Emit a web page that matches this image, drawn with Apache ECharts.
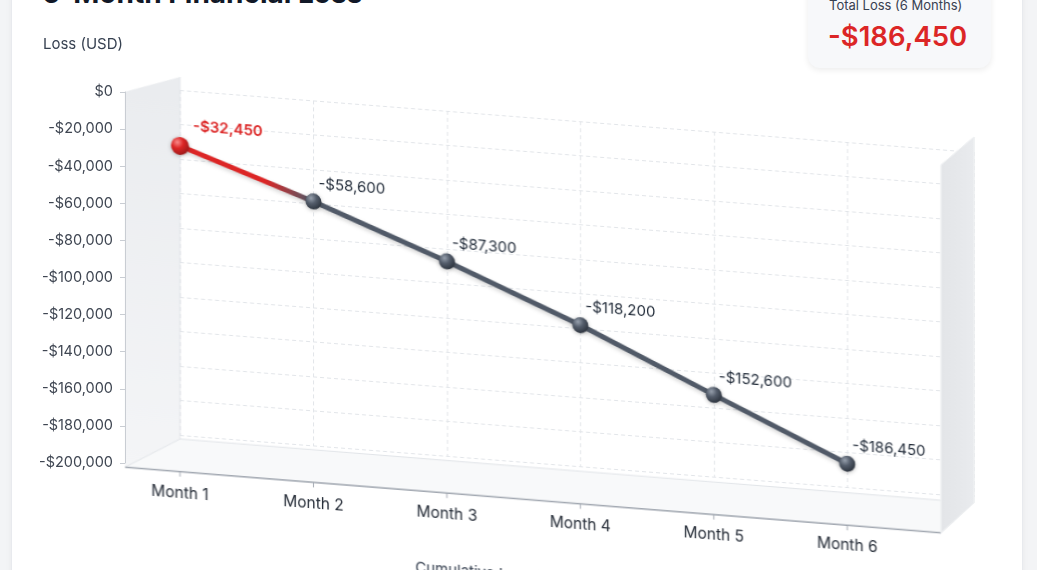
<!DOCTYPE html>
<html>
<head>
<meta charset="utf-8">
<script src="https://cdn.jsdelivr.net/npm/echarts@6/dist/echarts.min.js"></script>
<style>
  html, body { margin:0; padding:0; width:1037px; height:570px; overflow:hidden; background:#f3f4f6; font-family: Inter, "Noto Sans", sans-serif; }
  #card { position:absolute; left:11px; top:-60px; width:1010px; height:700px; background:#ffffff; border:1px solid #e8eaee; border-radius:14px; box-shadow:0 1px 6px rgba(0,0,0,0.05); }
  #title { position:absolute; left:42px; top:-21px; font-size:28px; line-height:28px; font-weight:700; color:#111827; white-space:nowrap; }
  #kpi { position:absolute; left:808px; top:-40px; width:183px; height:108px; background:#f7f8fa; border-radius:12px; box-shadow:0 2px 6px rgba(0,0,0,0.08); }
  #kpiLabel { position:absolute; left:829px; top:-4px; font-size:13px; line-height:18px; color:#374151; white-space:nowrap; }
  #kpiValue { position:absolute; left:828px; top:19px; font-size:27.5px; line-height:34px; font-weight:600; color:#dc2626; white-space:nowrap; }
  #plot { position:absolute; left:0; top:0; width:1037px; height:570px; transform-origin:180px 0; transform:skewY(4.46deg); }
  #axisLayer { position:absolute; left:0; top:0; width:1037px; height:570px; pointer-events:none; }
</style>
</head>
<body>
<div id="card"></div>
<div id="title">6-Month Financial Loss</div>
<div id="kpi"></div>
<div id="kpiLabel">Total Loss (6 Months)</div>
<div id="kpiValue"></div>
<div id="plot"></div>
<div id="axisLayer"></div>
<script>
// ---- data ----
const months = ['Month 1', 'Month 2', 'Month 3', 'Month 4', 'Month 5', 'Month 6'];
const cumulativeLoss = [-32450, -58600, -87300, -118200, -152600, -186450];
const yMin = -200000;
const yMax = 0;
const yStep = 20000;
const monthIndex = [0, 1, 2, 3, 4, 5];

function fmtUSD(v) {
  const s = '$' + Math.abs(v).toLocaleString('en-US');
  return v < 0 ? '-' + s : s;
}

document.getElementById('kpiValue').textContent = fmtUSD(cumulativeLoss[cumulativeLoss.length - 1]);

const slate = '#515a68';
const red = '#dc2626';
const sphereSlate = { type:'radial', x:0.35, y:0.3, r:0.75, colorStops:[{offset:0,color:'#97a0ad'},{offset:0.45,color:'#545d6b'},{offset:1,color:'#2c333d'}] };
const sphereRed = { type:'radial', x:0.35, y:0.3, r:0.75, colorStops:[{offset:0,color:'#f98b8b'},{offset:0.45,color:'#dc2626'},{offset:1,color:'#9b1a1a'}] };

const seriesData = monthIndex.map(function (i) {
  const item = { value: [i, cumulativeLoss[i]], itemStyle: { color: sphereSlate } };
  if (i === 0) {
    item.symbolSize = 18;
    item.itemStyle = { color: sphereRed };
    item.label = { color: red, fontWeight: 600, position: [22, -11] };
  }
  return item;
});

const wallElements = [
  { type: 'polygon', z: -5, shape: { points: [[125, 96], [180, 77], [180, 439], [125, 471.5]] },
    style: { fill: { type: 'linear', x: 0, y: 0, x2: 0, y2: 1, colorStops: [{ offset: 0, color: '#eaecef' }, { offset: 1, color: '#f4f5f7' }] } } },
  { type: 'polyline', z: -4, shape: { points: [[180, 77], [180, 439]] }, style: { stroke: '#e3e6ea', lineWidth: 1 } },
  { type: 'polygon', z: -5, shape: { points: [[180, 439], [974, 441], [941, 473.5], [125, 471.5]] },
    style: { fill: '#f8f9fa', stroke: '#e1e4e8', lineWidth: 1 } },
  { type: 'polyline', z: -3, shape: { points: [[125, 471.5], [941, 473.5]] }, style: { stroke: '#a3a9b2', lineWidth: 1.3 } },
  { type: 'polygon', z: 1, shape: { points: [[941, 105.5], [974, 75], [974, 441], [941, 473.5]] },
    style: { fill: { type: 'linear', x: 0, y: 0, x2: 1, y2: 0, colorStops: [{ offset: 0, color: '#e3e5e8' }, { offset: 1, color: '#e9ebee' }] }, stroke: '#eef0f2', lineWidth: 1 } }
];

// ---- skewed plot layer ----
const plot = echarts.init(document.getElementById('plot'), null, { renderer: 'canvas' });
plot.setOption({
  backgroundColor: 'transparent',
  animation: false,
  grid: { left: 180, top: 90, width: 794, height: 345 },
  xAxis: {
    type: 'value', min: 0, max: 5.95, interval: 1, offset: 37,
    axisLine: { show: false },
    axisTick: { show: false },
    axisLabel: { customValues: monthIndex, formatter: function (v) { return months[v] || ''; }, color: '#262d38', fontSize: 15.5, margin: 13, fontFamily: 'Inter' },
    splitLine: { show: true, lineStyle: { color: '#e2e5e9', type: [4, 3] } },
    name: 'Cumulative Loss (USD)', nameLocation: 'middle', nameGap: 70,
    nameTextStyle: { color: '#374151', fontSize: 15, fontFamily: 'Inter', padding: [0, 160, 0, 0] }
  },
  yAxis: {
    type: 'value', min: yMin, max: yMax, interval: yStep,
    axisLine: { show: false }, axisTick: { show: false }, axisLabel: { show: false },
    splitLine: { show: true, lineStyle: { color: '#e2e5e9', type: [4, 3] } }
  },
  graphic: { elements: wallElements },
  series: [{
    type: 'line',
    z: 3,
    data: seriesData,
    symbol: 'circle',
    symbolSize: 16,
    lineStyle: {
      width: 5,
      color: { type: 'linear', x: 0, y: 0, x2: 1, y2: 0, colorStops: [{ offset: 0, color: red }, { offset: 0.13, color: red }, { offset: 0.2, color: slate }, { offset: 1, color: slate }] },
      shadowColor: 'rgba(0,0,0,0.18)', shadowBlur: 4, shadowOffsetY: 2
    },
    itemStyle: { shadowColor: 'rgba(0,0,0,0.25)', shadowBlur: 4, shadowOffsetY: 1 },
    label: {
      show: true, position: [13, -10], align: 'left', verticalAlign: 'middle',
      formatter: function (p) { return fmtUSD(p.value[1]); },
      color: '#1f2937', fontSize: 15, fontFamily: 'Inter'
    }
  }]
});

// front-edge tick marks placed through the axis scale
const tickElements = monthIndex.map(function (i) {
  const px = plot.convertToPixel({ gridIndex: 0 }, [i, yMin])[0];
  const yFront = 471.5 + (px - 125) / (941 - 125) * 2;
  return { type: 'polyline', z: -2, shape: { points: [[px, yFront], [px, yFront + 5]] }, style: { stroke: '#a3a9b2', lineWidth: 1 } };
});
plot.setOption({ graphic: { elements: wallElements.concat(tickElements) } });

// ---- upright axis layer ----
const axisChart = echarts.init(document.getElementById('axisLayer'), null, { renderer: 'canvas' });
axisChart.setOption({
  backgroundColor: 'transparent',
  animation: false,
  grid: { left: 125, top: 92, width: 20, height: 371 },
  xAxis: { type: 'value', show: false, min: 0, max: 1 },
  yAxis: {
    type: 'value', min: yMin, max: yMax, interval: yStep,
    axisLine: { show: true, lineStyle: { color: '#c9cdd3' } },
    axisTick: { show: true, length: 5, lineStyle: { color: '#c9cdd3' } },
    axisLabel: { color: '#3f4652', fontSize: 14.5, margin: 12, fontFamily: 'Inter', formatter: fmtUSD },
    splitLine: { show: false },
    name: 'Loss (USD)', nameLocation: 'end', nameGap: 48,
    nameTextStyle: { color: '#374151', fontSize: 15, fontFamily: 'Inter', align: 'right', verticalAlign: 'middle', padding: [0, 2, 0, 0] }
  },
  series: []
});
</script>
</body>
</html>
